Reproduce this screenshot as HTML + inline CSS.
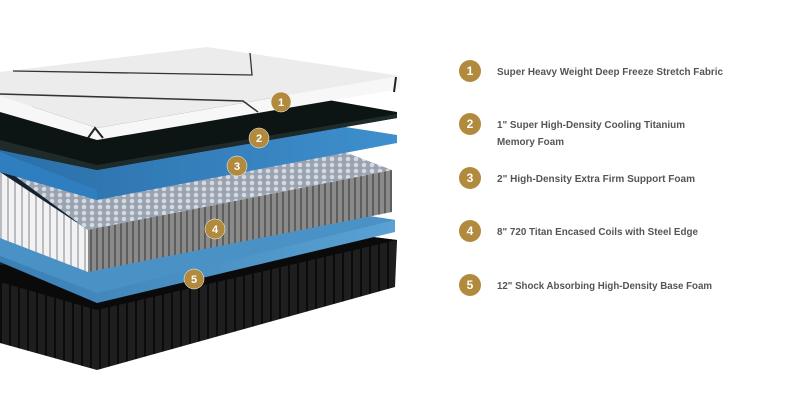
<!DOCTYPE html>
<html><head><meta charset="utf-8"><style>
html,body{margin:0;padding:0;background:#fff;}
svg{display:block}
text{font-family:"Liberation Sans",sans-serif;}
</style></head><body>
<svg width="797" height="402" viewBox="0 0 797 402" xmlns="http://www.w3.org/2000/svg">
<defs>
<linearGradient id="blue" x1="0" y1="0" x2="1" y2="0"><stop offset="0" stop-color="#2a6fa8"/><stop offset="1" stop-color="#3f8fce"/></linearGradient>
<linearGradient id="blue2" x1="0" y1="0" x2="1" y2="0"><stop offset="0" stop-color="#3a7fb5"/><stop offset="1" stop-color="#5aa2d3"/></linearGradient>
<pattern id="mesh" width="8" height="6" patternUnits="userSpaceOnUse"><rect width="8" height="6" fill="#9aa3b0"/><circle cx="4" cy="3" r="2.3" fill="#d4d9e2"/></pattern>
<pattern id="ribsg" width="6" height="10" patternUnits="userSpaceOnUse"><rect width="6" height="10" fill="#8a8a8a"/><rect width="2" height="10" fill="#5e5e5e"/></pattern>
<pattern id="ribsw" width="7" height="10" patternUnits="userSpaceOnUse"><rect width="7" height="10" fill="#f2f2f2"/><rect width="2" height="10" fill="#b9bcc2"/></pattern>
<pattern id="ribsb" width="9" height="10" patternUnits="userSpaceOnUse"><rect width="9" height="10" fill="#1e1e1e"/><rect width="2" height="10" fill="#0b0b0b"/></pattern>
</defs>
<polygon points="0,100 100,130 100,300 0,270" fill="#15222e"/>
<!-- base -->
<polygon points="0,265 300,228 397,240 395,287 97,370 0,343" fill="url(#ribsb)"/>
<polygon points="0,265 300,228 397,240 97,310 0,282" fill="#0a0a0a"/>
<!-- layer 5 blue -->
<polygon points="0,228 300,205 395,220 395,232 97,303 0,262" fill="url(#blue2)"/>
<polygon points="0,228 300,205 395,220 97,293 0,256" fill="#4a92c6"/>
<!-- coils -->
<polygon points="0,165 300,135 392,170 88,230" fill="url(#mesh)"/>
<polygon points="0,172 88,230 88,272 0,238" fill="url(#ribsw)"/>
<polygon points="88,230 392,170 392,212 88,272" fill="url(#ribsg)"/>
<!-- layer 3 blue -->
<polygon points="0,138 300,120 397,135 397,143 97,200 0,172" fill="url(#blue)"/>
<polygon points="0,152 97,190 97,200 0,172" fill="#2f7fc0"/>
<!-- layer 2 black -->
<polygon points="0,108 300,95 397,112 397,118 97,170 0,150" fill="#0d1414"/>
<polygon points="0,140 97,165 397,114 397,118 97,170 0,150" fill="#1f2a2a"/>
<!-- top white -->
<polygon points="0,72 207,47 400,76 97,128 0,96" fill="#ececec"/>
<polygon points="0,96 97,128 400,76 400,89 97,140 0,112" fill="#f7f7f7"/>
<polyline points="13,71 252,75 250,53" fill="none" stroke="#333" stroke-width="1.3"/>
<polyline points="0,94 243,101 258,112" fill="none" stroke="#333" stroke-width="1.5"/>
<polyline points="396,77 394,92" fill="none" stroke="#222" stroke-width="2"/>
<polyline points="88,138 95,128 103,138" fill="none" stroke="#222" stroke-width="2"/>
<!-- badges on mattress -->
<g fill="#b28a3e" stroke="#fff" stroke-width="0.5">
<circle cx="281" cy="102" r="10"/><circle cx="259" cy="138" r="10"/><circle cx="237" cy="166" r="10"/><circle cx="215" cy="229" r="10"/><circle cx="194" cy="279" r="10"/>
</g>
<g fill="#fff" font-size="11" font-weight="bold" text-anchor="middle">
<text x="281" y="106">1</text><text x="259" y="142">2</text><text x="237" y="170">3</text><text x="215" y="233">4</text><text x="194" y="283">5</text>
</g>
<!-- legend -->
<g fill="#b28a3e">
<circle cx="470" cy="71" r="11"/><circle cx="470" cy="124" r="11"/><circle cx="470" cy="178" r="11"/><circle cx="470" cy="231" r="11"/><circle cx="470" cy="285" r="11"/>
</g>
<g fill="#fff" font-size="12" font-weight="bold" text-anchor="middle">
<text x="470" y="75">1</text><text x="470" y="128">2</text><text x="470" y="182">3</text><text x="470" y="235">4</text><text x="470" y="289">5</text>
</g>
<g fill="#555" font-size="10.5" font-weight="bold">
<text x="497" y="75" textLength="226" lengthAdjust="spacingAndGlyphs">Super Heavy Weight Deep Freeze Stretch Fabric</text>
<text x="497" y="128" textLength="188" lengthAdjust="spacingAndGlyphs">1" Super High-Density Cooling Titanium</text>
<text x="497" y="145" textLength="67" lengthAdjust="spacingAndGlyphs">Memory Foam</text>
<text x="497" y="182" textLength="198" lengthAdjust="spacingAndGlyphs">2" High-Density Extra Firm Support Foam</text>
<text x="497" y="235" textLength="201" lengthAdjust="spacingAndGlyphs">8" 720 Titan Encased Coils with Steel Edge</text>
<text x="497" y="289" textLength="215" lengthAdjust="spacingAndGlyphs">12" Shock Absorbing High-Density Base Foam</text>
</g>
</svg>
</body></html>
